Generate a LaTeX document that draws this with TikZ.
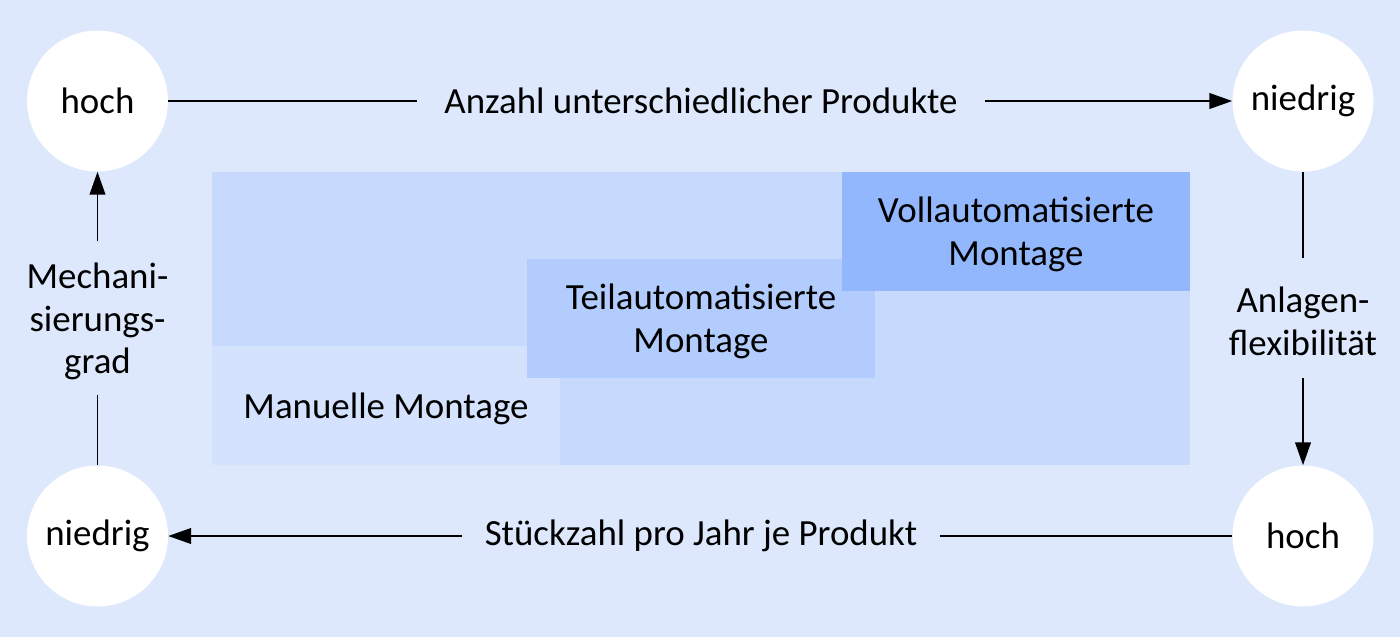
\documentclass[tikz,border=0pt]{standalone}
\usepackage{fontspec}
\setmainfont{Carlito}
\usetikzlibrary{arrows.meta}
\definecolor{bgc}{RGB}{221,232,253}
\definecolor{bigc}{RGB}{199,218,253}
\definecolor{manc}{RGB}{212,226,253}
\definecolor{teilc}{RGB}{177,204,253}
\definecolor{vollc}{RGB}{146,183,253}
\tikzset{
  endpt/.style={circle,fill=white,minimum size=2.82cm,inner sep=0pt,font=\fontsize{21}{24}\selectfont},
  lbl/.style={inner sep=0pt,align=center,font=\fontsize{21}{24.3}\selectfont},
  conn/.style={line width=0.8pt},
  arr/.style={line width=0.8pt,-{Triangle[length=13pt,width=9pt]}}
}
\begin{document}
\begin{tikzpicture}[x=0.02cm,y=-0.02cm]
\fill[bgc] (0,0) rectangle (1400,637);
\useasboundingbox (0,0) rectangle (1400,637);
% block area
\fill[bigc] (212,172) rectangle (1190,465);
\fill[manc] (212,346) rectangle (560,465);
\fill[teilc] (527,259) rectangle (875,378);
\fill[vollc] (842,172) rectangle (1190,291);
\node[lbl] (voll) at (1016,234.5) {Vollautomatisierte\\Montage};
\node[lbl] (teil) at (701,321.5) {Teilautomatisierte\\Montage};
\node[lbl] (man) at (386,408.5) {Manuelle Montage};
% corner circles
\node[endpt] (tl) at (97.5,101) {hoch};
\node[endpt] (tr) at (1303,101) {niedrig};
\node[endpt] (bl) at (97.5,536) {niedrig};
\node[endpt] (br) at (1303,536) {hoch};
% axis labels
\node[lbl,minimum width=11.34cm] (top) at (701,101) {Anzahl unterschiedlicher Produkte};
\node[lbl,minimum width=9.54cm] (bot) at (701,536) {Stückzahl pro Jahr je Produkt};
\node[lbl,minimum height=2.4cm] (right) at (1303,318) {};
\node[lbl] (rtxt) at (1303,321.5) {Anlagen-\\flexibilität};
\node[lbl,minimum height=3.08cm] (left) at (97.5,318) {};
\node[lbl] (ltxt) at (97.5,321.5) {Mechani-\\sierungs-\\grad};
% connectors
\draw[conn] (tl) -- (top);
\draw[arr] (top) -- (tr);
\draw[conn] (tr) -- (right);
\draw[arr] (right) -- (br);
\draw[conn] (br) -- (bot);
\draw[arr] (bot) -- (bl);
\draw[conn] (bl) -- (left);
\draw[arr] (left) -- (tl);
\end{tikzpicture}
\end{document}
